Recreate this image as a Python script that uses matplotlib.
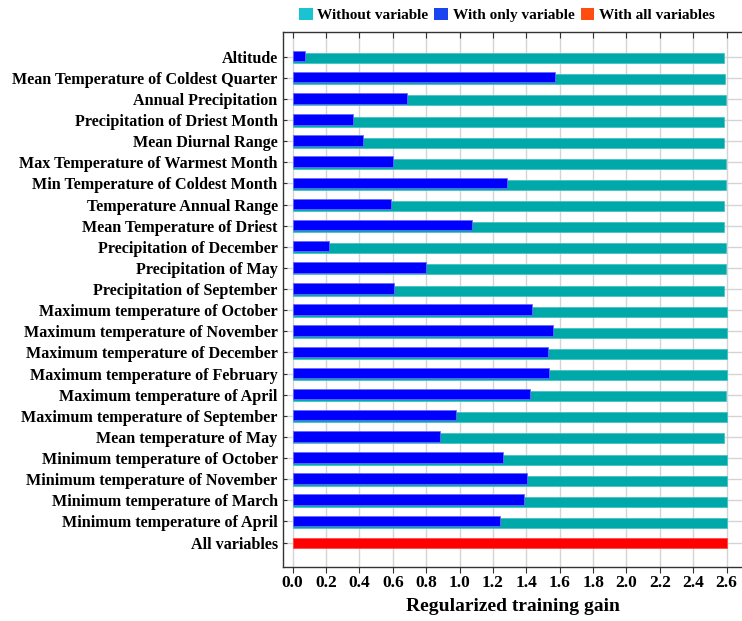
import matplotlib.pyplot as plt
from matplotlib.patches import Patch

# variables, listed top to bottom
variables = [
    'Altitude',
    'Mean Temperature of Coldest Quarter',
    'Annual Precipitation',
    'Precipitation of Driest Month',
    'Mean Diurnal Range',
    'Max Temperature of Warmest Month',
    'Min Temperature of Coldest Month',
    'Temperature Annual Range',
    'Mean Temperature of Driest',
    'Precipitation of December',
    'Precipitation of May',
    'Precipitation of September',
    'Maximum temperature of October',
    'Maximum temperature of November',
    'Maximum temperature of December',
    'Maximum temperature of February',
    'Maximum temperature of April',
    'Maximum temperature of September',
    'Mean temperature of May',
    'Minimum temperature of October',
    'Minimum temperature of November',
    'Minimum temperature of March',
    'Minimum temperature of April',
]

without_var = [2.586, 2.592, 2.598, 2.582, 2.586, 2.598, 2.598, 2.582, 2.586,
               2.598, 2.598, 2.582, 2.600, 2.600, 2.600, 2.600, 2.598, 2.600,
               2.586, 2.600, 2.600, 2.600, 2.600]
only_var = [0.074, 1.572, 0.685, 0.361, 0.421, 0.599, 1.286, 0.591, 1.074,
            0.219, 0.801, 0.609, 1.434, 1.560, 1.528, 1.534, 1.422, 0.980,
            0.883, 1.258, 1.402, 1.386, 1.242]
all_vars = 2.600

xticks = [0.0, 0.2, 0.4, 0.6, 0.8, 1.0, 1.2, 1.4, 1.6, 1.8, 2.0, 2.2, 2.4, 2.6]

plt.rcParams['font.family'] = ['Liberation Serif', 'DejaVu Serif']
plt.rcParams['font.weight'] = 'bold'

fig = plt.figure(figsize=(7.42, 6.21), dpi=100)
ax = fig.add_axes([0.3818, 0.0875, 0.6182, 0.861])

n = len(variables)
ypos = [n - i for i in range(n)]

ax.barh([y - 0.07 for y in ypos], without_var, height=0.47, color='#00a9a9',
        edgecolor='#3cc0c0', linewidth=0.5, zorder=3)
ax.barh([y + 0.03 for y in ypos], only_var, height=0.5, color='#0000ff',
        edgecolor='#6a6aff', linewidth=0.6, zorder=4)
ax.barh([0], [all_vars], height=0.47, color='#ff0000', edgecolor='#ff4040',
        linewidth=0.5, zorder=4)

ax.set_yticks([0] + ypos)
ax.set_yticklabels(['All variables'] + variables, fontsize=11.6, fontweight='bold')
ax.set_ylim(-1.14, n + 1.17)

ax.set_xlim(-0.056, 2.692)
ax.set_xticks(xticks)
ax.set_xticklabels(['%.1f' % t for t in xticks], fontsize=12.5, fontweight='bold')
ax.set_xlabel('Regularized training gain', fontsize=14, fontweight='bold',
              labelpad=5)

ax.grid(True, color='#d4d4d4', linewidth=1.0, zorder=0)
ax.set_axisbelow(True)
ax.spines['right'].set_visible(False)
for side in ['left', 'bottom', 'top']:
    ax.spines[side].set_color('#333333')
    ax.spines[side].set_linewidth(1.0)

ax.tick_params(axis='y', direction='in', length=3, pad=4, color='#333333')
ax.tick_params(axis='x', direction='out', length=4, pad=2, color='#333333',
               top=True)
for tick in ax.xaxis.get_major_ticks():
    tick.tick2line.set_marker(3)  # top ticks pointing down into the plot
    tick.tick2line.set_markersize(4)

handles = [
    Patch(facecolor='#19c3cf', label='Without variable'),
    Patch(facecolor='#1a44f0', label='With only variable'),
    Patch(facecolor='#ff4d12', label='With all variables'),
]
fig.legend(handles=handles, loc='center', bbox_to_anchor=(0.683, 0.976),
           ncol=3, frameon=False, handlelength=0.9, handleheight=0.9,
           handletextpad=0.3, columnspacing=0.4,
           prop={'family': 'Liberation Serif', 'weight': 'bold', 'size': 11})

fig.savefig('out.png', dpi=100)
